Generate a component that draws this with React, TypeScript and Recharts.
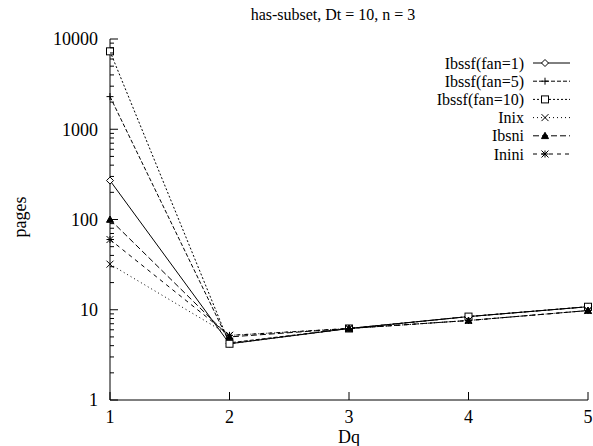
// Log-scale line chart: pages vs Dq for six index structures (has-subset).

import { Line, LineChart, XAxis, YAxis } from "recharts";

const dq = [1, 2, 3, 4, 5];
const ibssfFan1 = [270, 4.2, 6.2, 8.4, 10.8];
const ibssfFan5 = [2300, 4.3, 6.2, 8.4, 10.8];
const ibssfFan10 = [7300, 4.2, 6.2, 8.4, 10.8];
const inix = [32, 5.2, 6.2, 7.6, 9.8];
const ibsni = [100, 5.0, 6.2, 7.6, 9.8];
const inini = [60, 5.2, 6.2, 7.6, 9.8];

const xTicks = [1, 2, 3, 4, 5];
const yMajor = [1, 10, 100, 1000, 10000];
const yTicks = yMajor.flatMap((p) =>
  p === 10000 ? [p] : [1, 2, 3, 4, 5, 6, 7, 8, 9].map((m) => m * p)
);

type Marker = "diamond" | "plus" | "square" | "cross" | "triangle" | "star";

const series: { key: string; name: string; dash?: string; marker: Marker }[] = [
  { key: "f1", name: "Ibssf(fan=1)", marker: "diamond" },
  { key: "f5", name: "Ibssf(fan=5)", dash: "4 2", marker: "plus" },
  { key: "f10", name: "Ibssf(fan=10)", dash: "2 2", marker: "square" },
  { key: "inix", name: "Inix", dash: "1 3", marker: "cross" },
  { key: "ibsni", name: "Ibsni", dash: "6 3", marker: "triangle" },
  { key: "inini", name: "Inini", dash: "4 4", marker: "star" },
];

const data = dq.map((d, i) => ({
  dq: d,
  f1: ibssfFan1[i],
  f5: ibssfFan5[i],
  f10: ibssfFan10[i],
  inix: inix[i],
  ibsni: ibsni[i],
  inini: inini[i],
}));

const FONT = "Liberation Serif, DejaVu Serif, serif";
const txt = { fontFamily: FONT, fill: "#000" };

function markerShape(kind: Marker, cx: number, cy: number) {
  const s = 3.5;
  switch (kind) {
    case "diamond":
      return (
        <polygon
          points={`${cx},${cy - s} ${cx + s},${cy} ${cx},${cy + s} ${cx - s},${cy}`}
          fill="#fff"
          stroke="#000"
        />
      );
    case "plus":
      return (
        <path d={`M${cx - s},${cy}H${cx + s}M${cx},${cy - s}V${cy + s}`} stroke="#000" />
      );
    case "square":
      return (
        <rect x={cx - s} y={cy - s} width={2 * s} height={2 * s} fill="#fff" stroke="#000" />
      );
    case "cross":
      return (
        <path
          d={`M${cx - s},${cy - s}L${cx + s},${cy + s}M${cx - s},${cy + s}L${cx + s},${cy - s}`}
          stroke="#000"
        />
      );
    case "triangle":
      return (
        <polygon
          points={`${cx},${cy - s} ${cx + s},${cy + s * 0.8} ${cx - s},${cy + s * 0.8}`}
          fill="#000"
          stroke="#000"
        />
      );
    case "star":
      return (
        <path
          d={`M${cx - s},${cy - s}L${cx + s},${cy + s}M${cx - s},${cy + s}L${cx + s},${cy - s}M${cx - s},${cy}H${cx + s}M${cx},${cy - s}V${cy + s}`}
          stroke="#000"
        />
      );
  }
}

function makeDot(kind: Marker) {
  return (props: any) => {
    const { cx, cy, index } = props;
    if (cx == null || cy == null) return <g key={index} />;
    return <g key={index}>{markerShape(kind, cx, cy)}</g>;
  };
}

function LeftTick({ x, y, payload }: any) {
  const v = payload.value;
  const major = yMajor.includes(v);
  return (
    <g>
      <line x1={x} x2={x + (major ? 8 : 4)} y1={y} y2={y} stroke="#000" />
      {major && (
        <text x={x - 12} y={y} dy="0.35em" textAnchor="end" fontSize={18} style={txt}>
          {v}
        </text>
      )}
    </g>
  );
}

function RightTick({ x, y, payload }: any) {
  const major = yMajor.includes(payload.value);
  return <line x1={x} x2={x - (major ? 8 : 4)} y1={y} y2={y} stroke="#000" />;
}

function BottomTick({ x, y, payload }: any) {
  return (
    <g>
      <line x1={x} x2={x} y1={y} y2={y - 8} stroke="#000" />
      <text x={x} y={y + 17} dy="0.35em" textAnchor="middle" fontSize={18} style={txt}>
        {payload.value}
      </text>
    </g>
  );
}

function TopTick({ x, y }: any) {
  return <line x1={x} x2={x} y1={y} y2={y + 8} stroke="#000" />;
}

export default function App() {
  const legendRight = 524;
  const legendTop = 63;
  const legendStep = 18.2;
  return (
    <div
      style={{
        position: "absolute",
        left: 0,
        top: 0,
        width: 593,
        height: 446,
        background: "#fff",
        fontFamily: FONT,
      }}
    >
      <LineChart
        width={593}
        height={446}
        data={data}
        margin={{ top: 39, right: 5, bottom: 0, left: 0 }}
      >
        <XAxis
          xAxisId="bottom"
          dataKey="dq"
          type="number"
          domain={[1, 5]}
          ticks={xTicks}
          interval={0}
          height={46}
          tickSize={0}
          tickMargin={0}
          tickLine={false}
          tick={<BottomTick />}
          axisLine={{ stroke: "#000" }}
        />
        <XAxis
          xAxisId="top"
          orientation="top"
          dataKey="dq"
          type="number"
          domain={[1, 5]}
          ticks={xTicks}
          interval={0}
          height={0}
          tickSize={0}
          tickMargin={0}
          tickLine={false}
          tick={<TopTick />}
          axisLine={{ stroke: "#000" }}
        />
        <YAxis
          yAxisId="left"
          scale="log"
          domain={[1, 10000]}
          ticks={yTicks}
          interval={0}
          width={110}
          allowDataOverflow
          tickSize={0}
          tickMargin={0}
          tickLine={false}
          tick={<LeftTick />}
          axisLine={{ stroke: "#000" }}
        />
        <YAxis
          yAxisId="right"
          orientation="right"
          scale="log"
          domain={[1, 10000]}
          ticks={yTicks}
          interval={0}
          width={0}
          allowDataOverflow
          tickSize={0}
          tickMargin={0}
          tickLine={false}
          tick={<RightTick />}
          axisLine={{ stroke: "#000" }}
        />
        {series.map((s) => (
          <Line
            key={s.key}
            xAxisId="bottom"
            yAxisId="left"
            dataKey={s.key}
            name={s.name}
            type="linear"
            stroke="#000"
            strokeWidth={1}
            strokeDasharray={s.dash}
            dot={makeDot(s.marker)}
            activeDot={false}
            isAnimationActive={false}
          />
        ))}
        <text x={333} y={14} dy="0.35em" textAnchor="middle" fontSize={16} style={txt}>
          has-subset, Dt = 10, n = 3
        </text>
        <text x={349} y={437} dy="0.35em" textAnchor="middle" fontSize={18} style={txt}>
          Dq
        </text>
        <text
          x={20}
          y={217}
          dy="0.35em"
          textAnchor="middle"
          fontSize={18}
          style={txt}
          transform="rotate(-90 20 217)"
        >
          pages
        </text>
        <g>
          {series.map((s, i) => {
            const y = legendTop + i * legendStep;
            return (
              <g key={s.key}>
                <text x={legendRight} y={y} dy="0.35em" textAnchor="end" fontSize={16} style={txt}>
                  {s.name}
                </text>
                <line x1={533} x2={570} y1={y} y2={y} stroke="#000" strokeDasharray={s.dash} />
                {markerShape(s.marker, 545, y)}
              </g>
            );
          })}
        </g>
      </LineChart>
    </div>
  );
}
